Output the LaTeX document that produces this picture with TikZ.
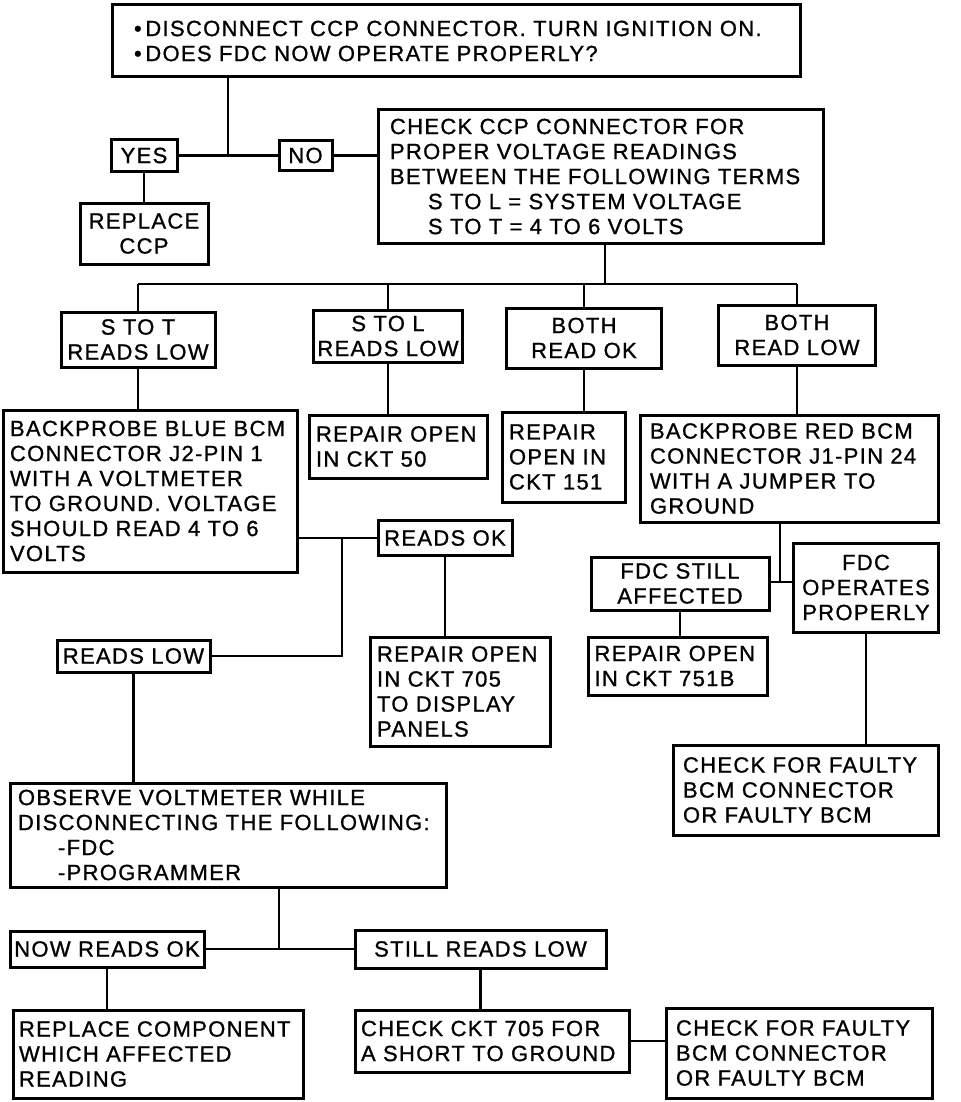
\documentclass[tikz,border=0pt]{standalone}
\usepackage{fontspec}
\setmainfont{Liberation Sans}[LetterSpace=6, FakeBold=1]
\usepackage{tikz}
\usetikzlibrary{positioning}
\hyphenpenalty=10000
\exhyphenpenalty=10000
\tikzstyle{process} = [rectangle, draw=black, line width=1.5pt, inner ysep=0pt, align=left]
\tikzstyle{answer} = [rectangle, draw=black, line width=1.5pt, inner sep=0pt, align=center]
\tikzstyle{line} = [line width=1.2pt]

\begin{document}
\begin{tikzpicture}[x=0.5pt, y=-0.5pt, font=\fontsize{11}{12.5}\selectfont]

    \useasboundingbox (0,0) rectangle (960,1102);

    % first question
    \node (top) [process, inner xsep=11pt, text width=322pt, minimum height=36pt] at (456,41) {\textbullet\,DISCONNECT CCP CONNECTOR. TURN IGNITION ON.\\ \textbullet\,DOES FDC NOW OPERATE PROPERLY?};
    \node (yes) [answer, minimum width=33pt, minimum height=16pt] at (144,155.5) {YES};
    \node (no) [answer, minimum width=26.5pt, minimum height=15pt] at (305.5,155.5) {NO};
    \node (replaceccp) [answer, minimum width=64pt, minimum height=30.5pt] at (144,233.5) {REPLACE\\CCP};
    \node (ccp) [process, inner xsep=6pt, text width=210.5pt, minimum height=66.5pt] at (600.5,176.5) {CHECK CCP CONNECTOR FOR\\PROPER VOLTAGE READINGS\\BETWEEN THE FOLLOWING TERMS\\\hspace*{19pt}S TO L = SYSTEM VOLTAGE\\\hspace*{19pt}S TO T = 4 TO 6 VOLTS};

    \coordinate (j1) at (228,155.5);
    \draw [line] (top.south -| j1) -- (j1);
    \draw [line] (yes) -- (no);
    \draw [line] (no.east) -- (no.east -| ccp.west);
    \draw [line] (yes) -- (replaceccp);

    % voltage readings
    \node (stot) [answer, minimum width=77pt, minimum height=27.5pt] at (138,339.5) {S TO T\\READS LOW};
    \node (stol) [answer, minimum width=74.5pt, minimum height=26pt] at (388,336) {S TO L\\READS LOW};
    \node (bothok) [answer, minimum width=77.5pt, minimum height=30pt] at (584,338) {BOTH\\READ OK};
    \node (bothlow) [answer, minimum width=78.5pt, minimum height=30pt] at (797,335) {BOTH\\READ LOW};

    \coordinate (j2) at (605,284);
    \draw [line] (ccp.south -| j2) -- (j2);
    \draw [line] (stot.north |- j2) -- (bothlow.north |- j2);
    \foreach \n in {stot,stol,bothok,bothlow}
        \draw [line] (\n.north |- j2) -- (\n.north);

    \node (blue) [process, inner xsep=3.5pt, text width=140pt, minimum height=81pt] at (150,491) {BACKPROBE BLUE BCM\\CONNECTOR J2-PIN 1\\WITH A VOLTMETER\\TO GROUND. VOLTAGE\\SHOULD READ 4 TO 6\\VOLTS};
    \node (ckt50) [process, inner xsep=3.5pt, text width=82pt, minimum height=31.5pt] at (398,446.5) {REPAIR OPEN\\IN CKT 50};
    \node (ckt151) [process, inner xsep=3.5pt, text width=54.5pt, minimum height=45pt] at (563.5,457) {REPAIR\\OPEN IN\\CKT 151};
    \node (red) [process, inner xsep=5pt, text width=139pt, minimum height=53.5pt] at (789,468.5) {BACKPROBE RED BCM\\CONNECTOR J1-PIN 24\\WITH A JUMPER TO\\GROUND};

    \draw [line] (stot.south) -- (stot.south |- blue.north);
    \draw [line] (stol.south) -- (stol.south |- ckt50.north);
    \draw [line] (bothok.south) -- (bothok.south |- ckt151.north);
    \draw [line] (bothlow.south) -- (bothlow.south |- red.north);

    % blue connector branch
    \node (readsok) [answer, minimum width=67pt, minimum height=17.5pt] at (445,538) {READS OK};
    \node (readslow) [answer, minimum width=76.5pt, minimum height=16pt] at (133.5,656) {READS LOW};
    \node (ckt705) [process, inner xsep=3.5pt, text width=83pt, minimum height=54.5pt] at (460,691.5) {REPAIR OPEN\\IN CKT 705\\TO DISPLAY\\PANELS};

    \coordinate (j3) at (342,538);
    \draw [line] (blue.east |- j3) -- (readsok.west);
    \draw [line] (j3) |- (readslow.east);
    \draw [line] (readsok.south) -- (readsok.south |- ckt705.north);

    % red connector branch
    \node (fdcstill) [answer, minimum width=89pt, minimum height=26.5pt] at (680,583.5) {FDC STILL\\AFFECTED};
    \node (fdcok) [answer, minimum width=72.5pt, minimum height=44.5pt] at (866,587.5) {FDC\\OPERATES\\PROPERLY};
    \node (ckt751b) [process, inner xsep=3pt, text width=83.5pt, minimum height=29pt] at (678,666) {REPAIR OPEN\\IN CKT 751B};
    \node (faulty1) [process, inner xsep=5pt, text width=122.5pt, minimum height=45pt] at (805.5,790) {CHECK FOR FAULTY\\BCM CONNECTOR\\OR FAULTY BCM};

    \coordinate (j4) at (780,582);
    \draw [line] (red.south -| j4) -- (j4);
    \draw [line] (fdcstill.east |- j4) -- (fdcok.west |- j4);
    \draw [line] (fdcstill.south) -- (fdcstill.south |- ckt751b.north);
    \draw [line] (fdcok.south) -- (fdcok.south |- faulty1.north);

    % disconnecting components
    \node (observe) [process, inner xsep=4pt, text width=210pt, minimum height=52pt] at (228,835) {OBSERVE VOLTMETER WHILE\\DISCONNECTING THE FOLLOWING:\\\hspace*{20pt}-FDC\\\hspace*{20pt}-PROGRAMMER};
    \draw [line] (readslow.south) -- (readslow.south |- observe.north);

    \node (nowok) [answer, minimum width=97pt, minimum height=18pt] at (107,949) {NOW READS OK};
    \node (stilllow) [answer, minimum width=125.5pt, minimum height=19pt] at (480.5,949) {STILL READS LOW};

    \coordinate (j5) at (279,949);
    \draw [line] (observe.south -| j5) -- (j5);
    \draw [line] (nowok) -- (stilllow);

    \node (replacecomp) [process, inner xsep=3pt, text width=139pt, minimum height=44pt] at (158,1054) {REPLACE COMPONENT\\WHICH AFFECTED\\READING};
    \node (ckt705short) [process, inner xsep=3pt, text width=131pt, minimum height=31pt] at (492,1041) {CHECK CKT 705 FOR\\A SHORT TO GROUND};
    \node (faulty2) [process, inner xsep=5pt, text width=123pt, minimum height=45pt] at (799,1053) {CHECK FOR FAULTY\\BCM CONNECTOR\\OR FAULTY BCM};

    \draw [line] (nowok.south) -- (nowok.south |- replacecomp.north);
    \draw [line] (stilllow.south) -- (stilllow.south |- ckt705short.north);
    \draw [line] (ckt705short.east) -- (ckt705short.east -| faulty2.west);

\end{tikzpicture}
\end{document}
